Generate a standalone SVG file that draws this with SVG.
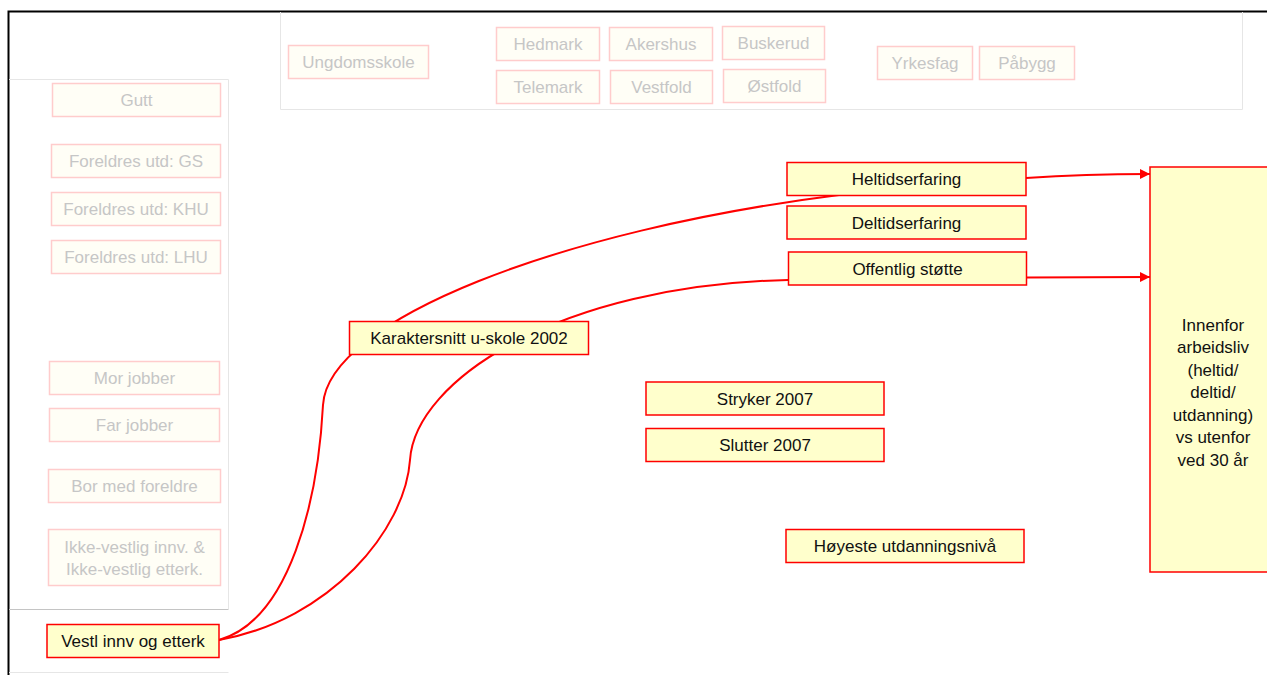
<svg xmlns="http://www.w3.org/2000/svg" width="1267" height="675" viewBox="0 0 1267 675">
<defs>
<style>
text{font-family:"Liberation Sans",Arial,sans-serif;font-size:17px;text-anchor:middle}
.f rect{fill:#fffef6;stroke:#ffcccc;stroke-width:1.5}
.f text{fill:#c6c6c6}
.a rect{fill:#ffffcc;stroke:#ff0000;stroke-width:1.5}
.a text{fill:#111}
.panel{fill:none;stroke:#e6e6e6;stroke-width:1}
.c{fill:none;stroke:#ff0000;stroke-width:2}
</style>
<marker id="ah" viewBox="0 0 10 10" refX="10" refY="5" markerWidth="10" markerHeight="10" markerUnits="userSpaceOnUse" orient="auto">
<path d="M0,0 L10,5 L0,10 z" fill="#ff0000"/>
</marker>
</defs>
<rect width="1267" height="675" fill="#ffffff"/>
<rect x="8.5" y="11.5" width="1300" height="700" fill="none" stroke="#000" stroke-width="2"/>
<g id="panels">
<path class="panel" d="M9,79.5 H228.5 V609"/>
<path d="M9,609.5 H228.5" stroke="#c4c4c4" stroke-width="1" fill="none"/>
<path class="panel" d="M9,672.5 H228.5"/>
<path class="panel" d="M280.5,12 V109.5 H1242.5 V12"/>
</g>
<g id="connectors">
<path class="c" d="M219,640 C290,620 318,500 323,405 C328,320 560,230 839,195"/>
<path class="c" d="M219,640 C330,620 405,530 410,460 C415,380 560,285 788,280"/>
<path class="c" marker-end="url(#ah)" d="M1026,178 C1070,175 1100,174 1150,174"/>
<path class="c" marker-end="url(#ah)" d="M1027,277.5 L1150,277"/>
</g>
<g id="n-ungdomsskole" class="f"><rect x="288.5" y="45.5" width="140" height="33"/><text x="358.5" y="68">Ungdomsskole</text></g>
<g id="n-hedmark" class="f"><rect x="496.5" y="27.5" width="103" height="33"/><text x="548" y="50">Hedmark</text></g>
<g id="n-akershus" class="f"><rect x="609.5" y="27.5" width="103" height="33"/><text x="661" y="50">Akershus</text></g>
<g id="n-buskerud" class="f"><rect x="722.5" y="26.5" width="102" height="33"/><text x="773.5" y="49">Buskerud</text></g>
<g id="n-telemark" class="f"><rect x="496.5" y="70.5" width="103" height="33"/><text x="548" y="93">Telemark</text></g>
<g id="n-vestfold" class="f"><rect x="610.5" y="70.5" width="102" height="33"/><text x="661.5" y="93">Vestfold</text></g>
<g id="n-ostfold" class="f"><rect x="723.5" y="69.5" width="102" height="33"/><text x="774.5" y="92">Østfold</text></g>
<g id="n-yrkesfag" class="f"><rect x="877.5" y="46.5" width="95" height="33"/><text x="925" y="69">Yrkesfag</text></g>
<g id="n-pabygg" class="f"><rect x="979.5" y="46.5" width="95" height="33"/><text x="1027" y="69">Påbygg</text></g>
<g id="n-gutt" class="f"><rect x="52.5" y="83.5" width="168" height="33"/><text x="136.5" y="106">Gutt</text></g>
<g id="n-gs" class="f"><rect x="51.5" y="144.5" width="169" height="33"/><text x="136" y="167">Foreldres utd: GS</text></g>
<g id="n-khu" class="f"><rect x="51.5" y="192.5" width="169" height="33"/><text x="136" y="215">Foreldres utd: KHU</text></g>
<g id="n-lhu" class="f"><rect x="51.5" y="240.5" width="169" height="33"/><text x="136" y="263">Foreldres utd: LHU</text></g>
<g id="n-mor" class="f"><rect x="49.5" y="361.5" width="170" height="33"/><text x="134.5" y="384">Mor jobber</text></g>
<g id="n-far" class="f"><rect x="49.5" y="408.5" width="170" height="33"/><text x="134.5" y="431">Far jobber</text></g>
<g id="n-bor" class="f"><rect x="48.5" y="469.5" width="172" height="33"/><text x="134.5" y="492">Bor med foreldre</text></g>
<g id="n-ikkevestlig" class="f"><rect x="48.5" y="529.5" width="172" height="56"/><text x="134.5" y="552.5">Ikke-vestlig innv. &amp;</text><text x="134.5" y="575">Ikke-vestlig etterk.</text></g>
<g id="n-vestl" class="a"><rect x="47" y="624.5" width="172" height="33"/><text x="133" y="647">Vestl innv og etterk</text></g>
<g id="n-karakter" class="a"><rect x="349.5" y="321.5" width="239" height="33"/><text x="469" y="344">Karaktersnitt u-skole 2002</text></g>
<g id="n-heltid" class="a"><rect x="787" y="162.5" width="239" height="33"/><text x="906.5" y="185">Heltidserfaring</text></g>
<g id="n-deltid" class="a"><rect x="787" y="206" width="239" height="33"/><text x="906.5" y="228.5">Deltidserfaring</text></g>
<g id="n-offentlig" class="a"><rect x="788.5" y="252" width="238" height="33"/><text x="907.5" y="274.5">Offentlig støtte</text></g>
<g id="n-stryker" class="a"><rect x="646" y="382" width="238" height="33"/><text x="765" y="404.5">Stryker 2007</text></g>
<g id="n-slutter" class="a"><rect x="646" y="428.5" width="238" height="33"/><text x="765" y="451">Slutter 2007</text></g>
<g id="n-hoyeste" class="a"><rect x="786" y="529.5" width="238" height="33"/><text x="905" y="552">Høyeste utdanningsnivå</text></g>
<g id="n-utfall" class="a"><rect x="1150" y="167" width="130" height="405"/><text x="1213" y="330.5">Innenfor</text><text x="1213" y="353">arbeidsliv</text><text x="1213" y="375.5">(heltid/</text><text x="1213" y="398">deltid/</text><text x="1213" y="420.5">utdanning)</text><text x="1213" y="443">vs utenfor</text><text x="1213" y="465.5">ved 30 år</text></g>
</svg>
